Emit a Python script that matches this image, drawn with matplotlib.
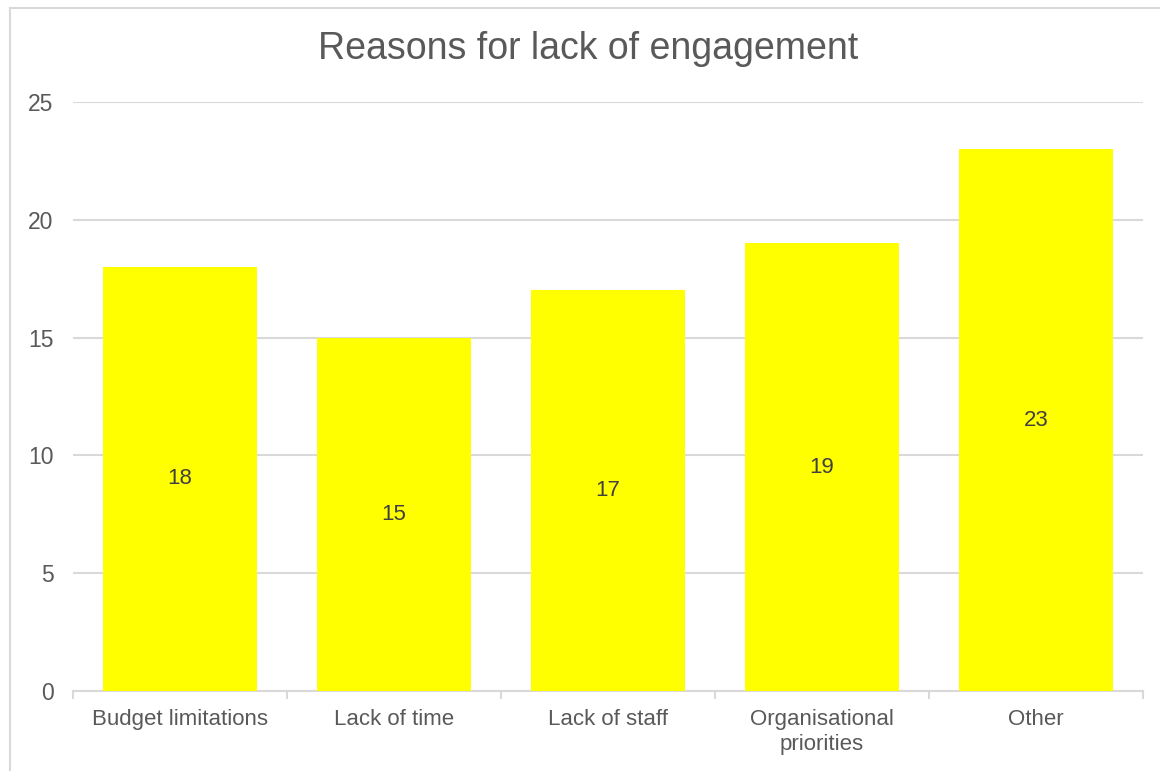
import matplotlib
matplotlib.use('Agg')
import matplotlib.pyplot as plt
from matplotlib.lines import Line2D

categories = ['Budget limitations', 'Lack of time', 'Lack of staff',
              'Organisational\npriorities', 'Other']
values = [18, 15, 17, 19, 23]
yticks = [0, 5, 10, 15, 20, 25]

plt.rcParams['font.family'] = ['Liberation Sans', 'DejaVu Sans']

fig = plt.figure(figsize=(11.6, 7.71), dpi=100)
ax = fig.add_axes([0.0629, 0.1038, 0.9224, 0.7639])

x = range(len(categories))
bars = ax.bar(x, values, width=0.72, color='#FFFF00', zorder=3)

# labels in the middle of each bar
for b, v in zip(bars, values):
    ax.text(b.get_x() + b.get_width() / 2, v / 2, str(v),
            ha='center', va='center', fontsize=16, color='#404040', zorder=4)

ax.set_xlim(-0.5, len(categories) - 0.5)
ax.set_ylim(0, 25)
ax.set_yticks(yticks)
ax.set_xticks(list(x))
ax.set_xticklabels(categories, linespacing=1.25)
ax.set_xticks([i - 0.5 for i in range(len(categories) + 1)], minor=True)

ax.grid(axis='y', color='#d9d9d9', linewidth=1.5, zorder=0)
for s in ['top', 'right', 'left']:
    ax.spines[s].set_visible(False)
ax.spines['bottom'].set_color('#d9d9d9')
ax.spines['bottom'].set_linewidth(1.5)

ax.tick_params(axis='y', length=0, pad=14, labelsize=16.5, labelcolor='#595959')
ax.tick_params(axis='x', which='major', length=0, pad=13, labelsize=16,
               labelcolor='#595959')
ax.tick_params(axis='x', which='minor', length=6, width=1.5, color='#d9d9d9')

fig.text(0.507, 0.936, 'Reasons for lack of engagement', ha='center',
         va='center', fontsize=27, color='#595959')

# chart border (only top and left visible in the crop)
fig.add_artist(Line2D([0.0086, 0.0086], [0, 0.99], transform=fig.transFigure,
                      color='#d9d9d9', linewidth=1.5))
fig.add_artist(Line2D([0.0086, 1.0], [0.99, 0.99], transform=fig.transFigure,
                      color='#d9d9d9', linewidth=1.5))

fig.savefig('out.png', dpi=100)
